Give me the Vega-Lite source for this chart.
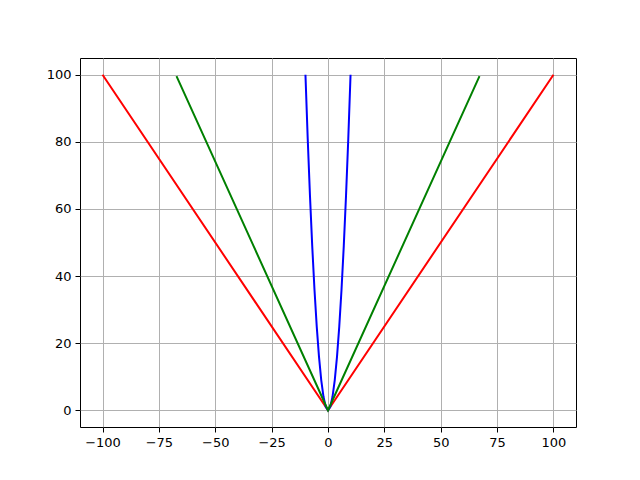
{
  "$schema": "https://vega.github.io/schema/vega-lite/v6.json",
  "width": 496,
  "height": 369,
  "autosize": {"type": "none"},
  "padding": {"left": 80, "top": 58, "right": 64, "bottom": 53},
  "background": "white",
  "config": {
    "view": {"stroke": "black", "strokeWidth": 1},
    "axis": {
      "grid": true,
      "gridColor": "#b0b0b0",
      "gridWidth": 1,
      "domain": false,
      "tickColor": "black",
      "tickSize": 5,
      "tickWidth": 1,
      "labelFont": "DejaVu Sans",
      "labelFontSize": 13,
      "labelColor": "black",
      "labelPadding": 4,
      "title": null
    }
  },
  "data": {
    "values": [
      {"s": "a", "x": -100, "y": 100},
      {"s": "a", "x": 0, "y": 0},
      {"s": "a", "x": 100, "y": 100},
      {"s": "b", "x": -10, "y": 100},
      {"s": "b", "x": -9, "y": 81},
      {"s": "b", "x": -8, "y": 64},
      {"s": "b", "x": -7, "y": 49},
      {"s": "b", "x": -6, "y": 36},
      {"s": "b", "x": -5, "y": 25},
      {"s": "b", "x": -4, "y": 16},
      {"s": "b", "x": -3, "y": 9},
      {"s": "b", "x": -2, "y": 4},
      {"s": "b", "x": -1, "y": 1},
      {"s": "b", "x": 0, "y": 0},
      {"s": "b", "x": 1, "y": 1},
      {"s": "b", "x": 2, "y": 4},
      {"s": "b", "x": 3, "y": 9},
      {"s": "b", "x": 4, "y": 16},
      {"s": "b", "x": 5, "y": 25},
      {"s": "b", "x": 6, "y": 36},
      {"s": "b", "x": 7, "y": 49},
      {"s": "b", "x": 8, "y": 64},
      {"s": "b", "x": 9, "y": 81},
      {"s": "b", "x": 10, "y": 100},
      {"s": "c", "x": -67.2, "y": 99.6},
      {"s": "c", "x": 0, "y": 0},
      {"s": "c", "x": 67.2, "y": 99.6}
    ]
  },
  "mark": {"type": "line", "strokeWidth": 2},
  "encoding": {
    "x": {
      "field": "x",
      "type": "quantitative",
      "scale": {"domain": [-110, 110], "nice": false, "zero": false},
      "axis": {"values": [-100, -75, -50, -25, 0, 25, 50, 75, 100]}
    },
    "y": {
      "field": "y",
      "type": "quantitative",
      "scale": {"domain": [-5, 105], "nice": false, "zero": false},
      "axis": {"values": [0, 20, 40, 60, 80, 100]}
    },
    "color": {
      "field": "s",
      "type": "nominal",
      "scale": {"domain": ["a", "b", "c"], "range": ["red", "blue", "green"]},
      "legend": null
    }
  }
}
